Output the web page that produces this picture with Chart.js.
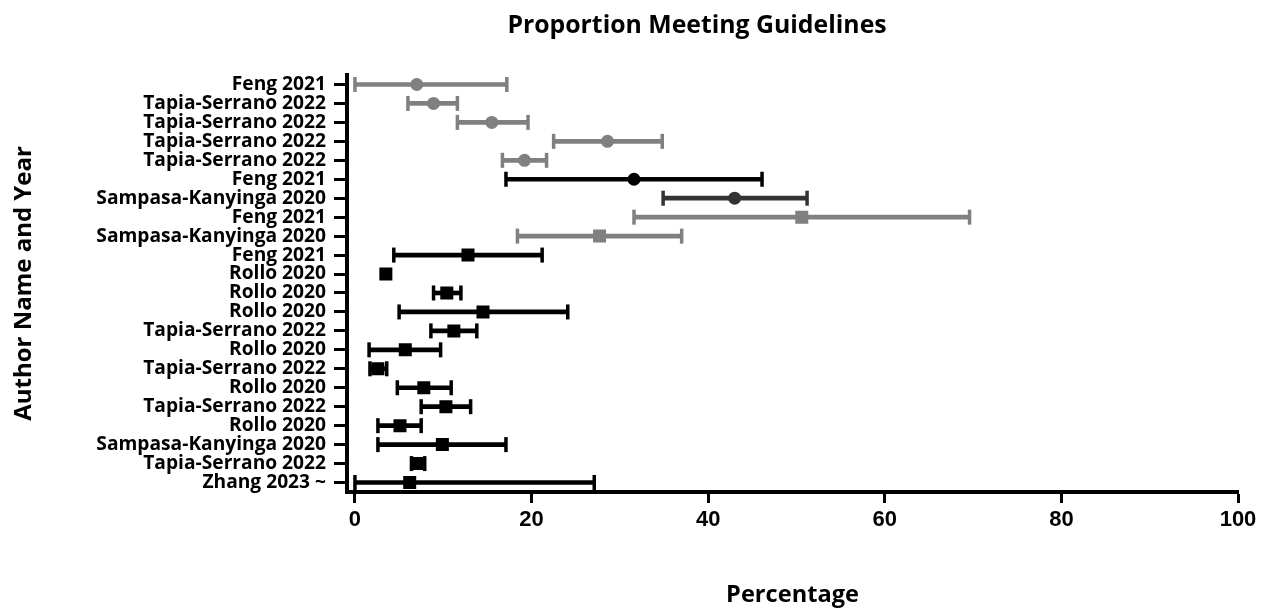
<!DOCTYPE html>
<html>
<head>
<meta charset="utf-8">
<script src="https://cdn.jsdelivr.net/npm/chart.js@4.4.1/dist/chart.umd.min.js"></script>
<style>
	body { margin: 0; background: #fff; }
	#wrap { position: relative; width: 1269px; height: 611px; }
	#title {
		position: absolute; top: 6px; left: 447px; width: 500px; line-height: 1.2;
		text-align: center; font: bold 24.8px "Open Sans", sans-serif; color: #000;
	}
</style>
</head>
<body>
<div id="wrap">
	<div id="title">Proportion Meeting Guidelines</div>
	<canvas id="chart" width="1269" height="611"></canvas>
</div>
<script>
// Study labels, top to bottom
const studies = [
	"Feng 2021", "Tapia-Serrano 2022", "Tapia-Serrano 2022", "Tapia-Serrano 2022",
	"Tapia-Serrano 2022", "Feng 2021", "Sampasa-Kanyinga 2020", "Feng 2021",
	"Sampasa-Kanyinga 2020", "Feng 2021", "Rollo 2020", "Rollo 2020", "Rollo 2020",
	"Tapia-Serrano 2022", "Rollo 2020", "Tapia-Serrano 2022", "Rollo 2020",
	"Tapia-Serrano 2022", "Rollo 2020", "Sampasa-Kanyinga 2020", "Tapia-Serrano 2022",
	"Zhang 2023 ~"
];

// Point estimates and confidence limits (%)
const estimate = [7.0, 8.9, 15.5, 28.6, 19.2, 31.6, 43.0, 50.6, 27.7, 12.8, 3.5, 10.4, 14.5, 11.2, 5.7, 2.6, 7.8, 10.3, 5.1, 9.9, 7.2, 6.2];
const lower = [0, 6.0, 11.6, 22.5, 16.7, 17.1, 34.9, 31.6, 18.4, 4.4, null, 8.9, 5.0, 8.6, 1.6, 1.7, 4.8, 7.5, 2.6, 2.6, 6.4, 0];
const upper = [17.2, 11.6, 19.6, 34.8, 21.7, 46.1, 51.2, 69.6, 37.0, 21.2, null, 12.0, 24.1, 13.8, 9.7, 3.6, 10.9, 13.1, 7.5, 17.1, 7.9, 27.1];

// Marker shape and shade for each row
const shapes = ["circle", "circle", "circle", "circle", "circle", "circle", "circle", "rect", "rect", "rect", "rect", "rect", "rect", "rect", "rect", "rect", "rect", "rect", "rect", "rect", "rect", "rect"];
const shades = ["#808080", "#808080", "#808080", "#808080", "#808080", "#000000", "#333333", "#808080", "#808080", "#000000", "#000000", "#000000", "#000000", "#000000", "#000000", "#000000", "#000000", "#000000", "#000000", "#000000", "#000000", "#000000"];

const xTicks = [0, 20, 40, 60, 80, 100];

const boldFont = (family, size) => ({ family: family, weight: "bold", size: size });
const labelFamily = "'Open Sans', sans-serif";
const digitFamily = "'Liberation Sans', Arial, sans-serif";

const ranges = lower.map((lo, i) => (lo === null ? null : [lo, upper[i]]));

const capStyle = {
	type: "line",
	indexAxis: "y",
	showLine: false,
	pointStyle: "line",
	rotation: 90,
	pointRadius: 7.5,
	pointBorderWidth: 3.5,
	pointBorderColor: shades,
	order: 1,
};

new Chart(document.getElementById("chart"), {
	type: "bar",
	data: {
		labels: studies,
		datasets: [
			{
				data: estimate,
				type: "line",
				indexAxis: "y",
				showLine: false,
				pointStyle: shapes,
				pointRadius: shapes.map((s) => (s === "circle" ? 6.5 : 9.2)),
				pointBackgroundColor: shades,
				pointBorderColor: shades,
				pointBorderWidth: 0,
				order: 0,
			},
			Object.assign({ data: lower }, capStyle),
			Object.assign({ data: upper }, capStyle),
			{
				data: ranges,
				backgroundColor: shades,
				barThickness: 4,
				borderWidth: 0,
				borderSkipped: false,
				order: 2,
			},
		],
	},
	options: {
		indexAxis: "y",
		responsive: false,
		animation: false,
		layout: { padding: { top: 75, left: 6, right: 31, bottom: 0 } },
		plugins: { legend: { display: false }, tooltip: { enabled: false } },
		scales: {
			x: {
				type: "linear",
				min: -0.9,
				max: 100,
				afterBuildTicks: (scale) => {
					scale.ticks = xTicks.map((v) => ({ value: v }));
				},
				afterFit: (scale) => {
					scale.height = 119;
				},
				border: { display: true, color: "#000", width: 4 },
				grid: { drawOnChartArea: false, drawTicks: true, tickLength: 11, tickWidth: 3, tickColor: "#000" },
				ticks: { color: "#000", font: boldFont(digitFamily, 22), padding: 4, maxRotation: 0 },
				title: { display: true, text: "Percentage", color: "#000", font: boldFont(labelFamily, 23.6), padding: { bottom: 2 } },
			},
			y: {
				type: "category",
				offset: true,
				afterFit: (scale) => {
					scale.width = 341;
				},
				border: { display: true, color: "#000", width: 4 },
				grid: { offset: false, drawOnChartArea: false, drawTicks: true, tickLength: 13, tickWidth: 3, tickColor: "#000" },
				ticks: { color: "#000", font: boldFont(labelFamily, 19.2), padding: 8, autoSkip: false },
				title: { display: true, text: "Author Name and Year", color: "#000", font: boldFont(labelFamily, 24), padding: { top: 4 } },
			},
		},
	},
});
</script>
</body>
</html>
